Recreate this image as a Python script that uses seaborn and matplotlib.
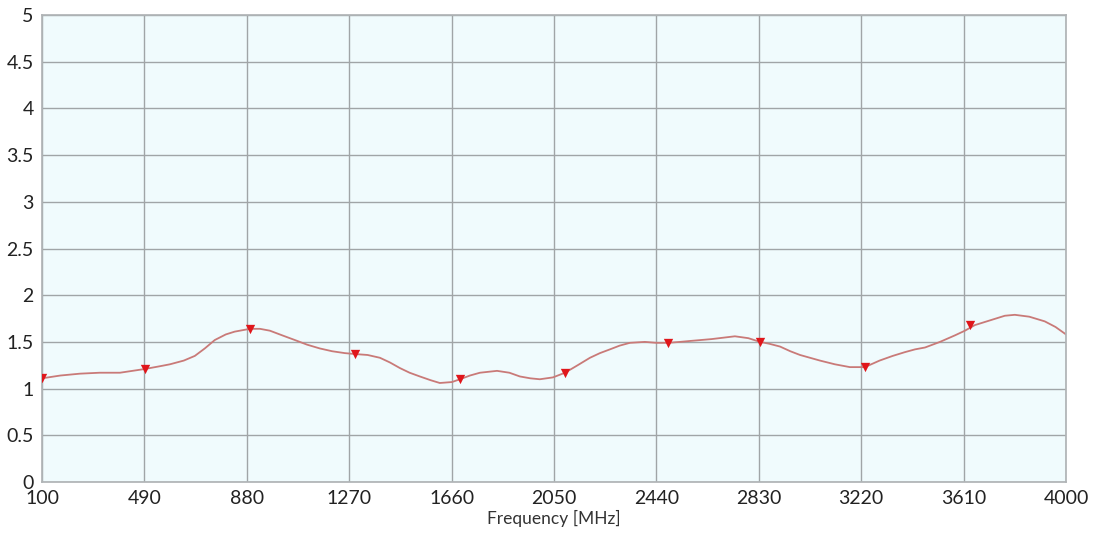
import seaborn as sns
import pandas as pd
import matplotlib.pyplot as plt

# curve (MHz, value)
freq = [100, 170, 245, 320, 397, 492, 550, 587, 640, 682, 720, 758, 800, 834,
        892, 930, 968, 1015, 1063, 1110, 1158, 1205, 1253, 1292, 1340, 1387,
        1425, 1463, 1500, 1539, 1580, 1615, 1661, 1692, 1730, 1768, 1833, 1880,
        1920, 1960, 1996, 2046, 2092, 2140, 2187, 2225, 2263, 2300, 2339, 2396,
        2440, 2484, 2530, 2568, 2650, 2739, 2790, 2835, 2870, 2911, 2950, 2987,
        3025, 3063, 3120, 3177, 3234, 3290, 3340, 3386, 3425, 3463, 3520, 3577,
        3615, 3653, 3710, 3767, 3805, 3860, 3919, 3960, 4000]
vswr = [1.11, 1.14, 1.16, 1.17, 1.17, 1.21, 1.24, 1.26, 1.30, 1.35, 1.43, 1.52,
        1.58, 1.61, 1.64, 1.64, 1.62, 1.57, 1.52, 1.47, 1.43, 1.40, 1.38, 1.37,
        1.36, 1.33, 1.28, 1.22, 1.17, 1.13, 1.09, 1.06, 1.07, 1.10, 1.14, 1.17,
        1.19, 1.17, 1.13, 1.11, 1.10, 1.12, 1.17, 1.25, 1.33, 1.38, 1.42, 1.46,
        1.49, 1.50, 1.49, 1.49, 1.50, 1.51, 1.53, 1.56, 1.54, 1.50, 1.48, 1.45,
        1.40, 1.36, 1.33, 1.30, 1.26, 1.23, 1.23, 1.30, 1.35, 1.39, 1.42, 1.44,
        1.50, 1.57, 1.62, 1.68, 1.73, 1.78, 1.79, 1.77, 1.72, 1.66, 1.58]

# marker points
mk_freq = [100, 492, 892, 1292, 1692, 2092, 2484, 2835, 3234, 3634]
mk_vswr = [1.11, 1.21, 1.64, 1.37, 1.10, 1.17, 1.49, 1.50, 1.23, 1.68]

xticks = [100, 490, 880, 1270, 1660, 2050, 2440, 2830, 3220, 3610, 4000]
yticks = [0, 0.5, 1, 1.5, 2, 2.5, 3, 3.5, 4, 4.5, 5]

sns.set_theme(style='white')
plt.rcParams['font.family'] = ['Lato', 'DejaVu Sans']

curve = pd.DataFrame({'f': freq, 'v': vswr})
marks = pd.DataFrame({'f': mk_freq, 'v': mk_vswr})

fig = plt.figure(figsize=(10.94, 5.38), dpi=100)
ax = fig.add_axes([0.0384, 0.1041, 0.936, 0.868])
ax.set_facecolor('#f0fbfd')

sns.lineplot(data=curve, x='f', y='v', color='#c97a78', linewidth=1.3, ax=ax)
sns.scatterplot(data=marks, x='f', y='v', marker='v', color='#e0161b', s=45,
                edgecolor='#e0161b', linewidth=0, ax=ax, zorder=5)

ax.set_xlim(100, 4000)
ax.set_ylim(0, 5)
ax.set_xticks(xticks)
ax.set_yticks(yticks)
ax.set_yticklabels(['0', '0.5', '1', '1.5', '2', '2.5', '3', '3.5', '4', '4.5', '5'])
ax.grid(True, color='#a0a5a7', linewidth=1)
ax.set_axisbelow(True)
for s in ax.spines.values():
    s.set_color('#b0b4b6')
ax.tick_params(length=0, labelsize=14, colors='#222222', pad=6)
ax.set_xlabel('Frequency [MHz]', fontsize=12.5, color='#333333', labelpad=2)
ax.set_ylabel('')

plt.savefig('out.png', dpi=100)
